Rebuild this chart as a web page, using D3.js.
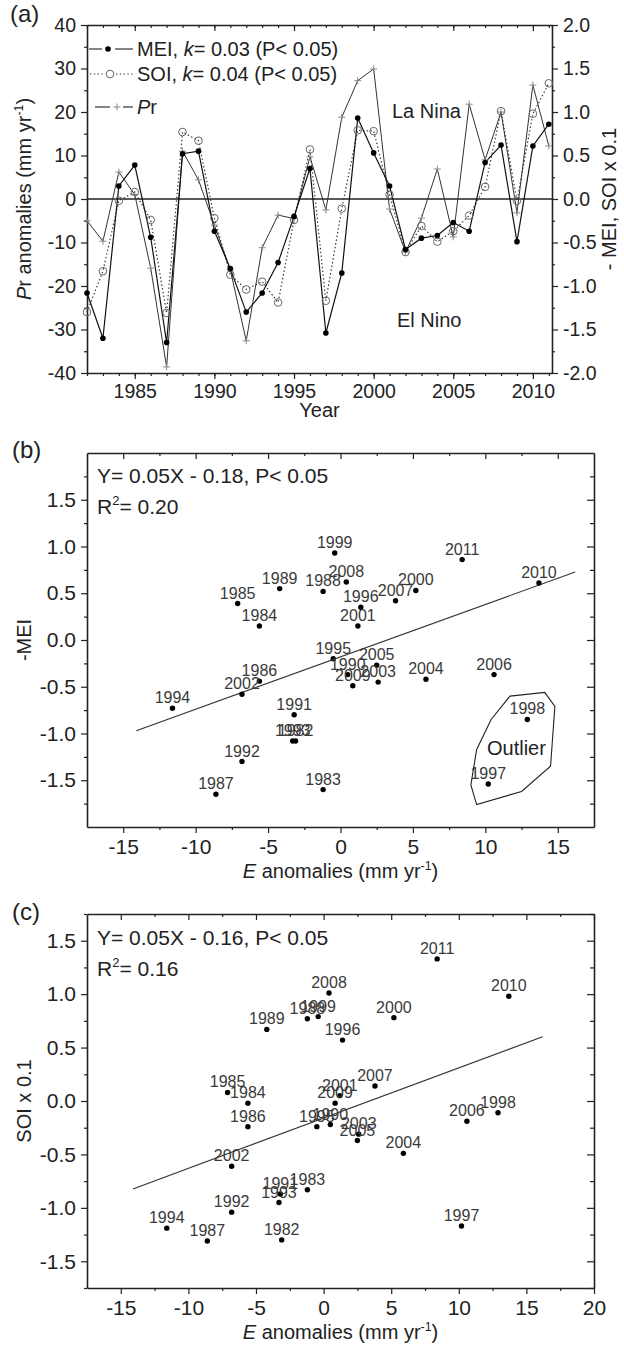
<!DOCTYPE html>
<html>
<head>
<meta charset="utf-8">
<script src="https://cdn.jsdelivr.net/npm/d3@7"></script>
<style>
  body { margin: 0; background: #fff; }
  svg { display: block; font-family: "Liberation Sans", Arial, Helvetica, sans-serif; }
</style>
</head>
<body>
<div id="chart"></div>
<script>
// years of record
var years = [1982, 1983, 1984, 1985, 1986, 1987, 1988, 1989, 1990, 1991,
             1992, 1993, 1994, 1995, 1996, 1997, 1998, 1999, 2000, 2001,
             2002, 2003, 2004, 2005, 2006, 2007, 2008, 2009, 2010, 2011];

// Pr anomalies (mm yr-1), left axis of (a)
var prAnom = [-5, -9.7, 6.2, 1, -15.9, -38.6, 11, 4.4, -6, -16.3,
              -32.6, -11.2, -3.7, -4.5, 9.7, -2.5, 18.8, 27.2, 29.9, -2.3,
              -12.2, -4.4, 6.9, -8.7, 21.8, 9, 20, -3.2, 26.2, 12.2];

// -MEI, right axis of (a) and y of (b)
var negMei = [-1.08, -1.60, 0.15, 0.39, -0.44, -1.65, 0.52, 0.55, -0.37, -0.80,
              -1.30, -1.08, -0.73, -0.20, 0.35, -1.54, -0.85, 0.93, 0.53, 0.15,
              -0.58, -0.45, -0.42, -0.27, -0.37, 0.42, 0.62, -0.49, 0.61, 0.86];

// SOI x 0.1, right axis of (a) and y of (c)
var soi = [-1.30, -0.83, -0.02, 0.08, -0.24, -1.31, 0.77, 0.67, -0.22, -0.87,
           -1.04, -0.95, -1.19, -0.24, 0.57, -1.17, -0.11, 0.79, 0.78, 0.05,
           -0.61, -0.31, -0.49, -0.37, -0.19, 0.14, 1.01, -0.02, 0.98, 1.33];

// E anomalies (mm yr-1), x of (b) and (c)
var eAnom = [-3.1, -1.2, -5.6, -7.1, -5.6, -8.6, -1.2, -4.2, 0.5, -3.2,
             -6.8, -3.3, -11.6, -0.5, 1.4, 10.2, 12.9, -0.4, 5.2, 1.2,
             -6.8, 2.6, 5.9, 2.5, 10.6, 3.8, 0.4, 0.85, 13.7, 8.4];

// tick labels
var yearTicks = [1985, 1990, 1995, 2000, 2005, 2010];
var prTicks = [-40, -30, -20, -10, 0, 10, 20, 30, 40];
var idxTicksA = [-2, -1.5, -1, -0.5, 0, 0.5, 1, 1.5, 2];
var eTicksB = [-15, -10, -5, 0, 5, 10, 15];
var eTicksC = [-15, -10, -5, 0, 5, 10, 15, 20];
var idxTicksBC = [-1.5, -1, -0.5, 0, 0.5, 1, 1.5];

// fitted lines [slope, intercept] and their x extent
var fitB = [0.056, -0.18];
var fitC = [0.047, -0.16];
var fitRange = [-14.1, 16.2];

// hand-drawn outlier outline in (b), [E, -MEI]
var outlierHull = [[11.7, -0.60], [14.1, -0.56], [14.8, -0.71], [14.5, -1.35],
                   [12.5, -1.62], [9.4, -1.76], [9.0, -1.55], [9.4, -1.17], [10.4, -0.85]];

var ink = "#222";
var svg = d3.select("#chart").append("svg").attr("width", 624).attr("height", 1346);

function fmt1(d) { return d.toFixed(1); }
function fmt0(d) { return String(d); }

function ax(orient, scale, at, ticks, size, format, fs, pad) {
  var gen = {left: d3.axisLeft, right: d3.axisRight, top: d3.axisTop, bottom: d3.axisBottom}[orient](scale)
    .tickValues(ticks).tickSize(size).tickSizeOuter(0).tickPadding(pad || 4)
    .tickFormat(format || "");
  var horiz = orient == "top" || orient == "bottom";
  var a = svg.append("g")
    .attr("transform", horiz ? "translate(0," + at + ")" : "translate(" + at + ",0)")
    .call(gen)
    .attr("font-family", null).attr("font-size", fs || 19);
  a.select(".domain").attr("stroke", ink).attr("stroke-width", 1.6);
  a.selectAll(".tick line").attr("stroke", ink).attr("stroke-width", 1.2);
  a.selectAll(".tick text").attr("fill", ink);
  return a;
}
function minor(orient, scale, at, ticks, size) {
  var a = ax(orient, scale, at, ticks, size);
  a.select(".domain").remove();
}

// text with italic / superscript parts
function rich(sel, parts, fs) {
  var up = false;
  parts.forEach(function(p) {
    var t = sel.append("tspan").text(p[0]);
    if (p[1] == "i") t.style("font-style", "italic");
    if (p[1] == "sup") { t.attr("dy", -fs * 0.42).style("font-size", (fs * 0.62) + "px"); up = true; }
    else if (up) { t.attr("dy", fs * 0.42); up = false; }
  });
  return sel;
}
function label(x, y, fs, parts, rot, anchor) {
  var t = svg.append("text").attr("fill", ink).style("font-size", fs + "px")
    .attr("text-anchor", anchor || "start");
  if (rot) t.attr("transform", "translate(" + x + "," + y + ") rotate(" + rot + ")");
  else t.attr("x", x).attr("y", y);
  return rich(t, parts, fs);
}

// ================= (a) time series =================
var xA = d3.scaleLinear().domain([1982, 2011.2]).range([87, 552]);
var yPr = d3.scaleLinear().domain([-40, 40]).range([373, 25]);
var yIdx = d3.scaleLinear().domain([-2, 2]).range([373, 25]);

minor("bottom", xA, 373, years, 3);
ax("bottom", xA, 373, yearTicks, 6, fmt0, 19.5, 5);
minor("top", xA, 25, years, -3);
ax("top", xA, 25, yearTicks, -6);
minor("left", yPr, 87, d3.range(-35, 40, 10), 3);
ax("left", yPr, 87, prTicks, 6, fmt0, 19.5, 5);
minor("right", yIdx, 552, d3.range(-1.75, 2, 0.5), 3);
ax("right", yIdx, 552, idxTicksA, 6, fmt1, 19.5, 5);

svg.append("line")
  .attr("x1", xA.range()[0]).attr("x2", xA.range()[1])
  .attr("y1", yPr(0)).attr("y2", yPr(0))
  .attr("stroke", ink).attr("stroke-width", 1.4);

var linePr = d3.line().x(function(d, i) { return xA(years[i]); }).y(function(d) { return yPr(d); });
var lineIdx = d3.line().x(function(d, i) { return xA(years[i]); }).y(function(d) { return yIdx(d); });

svg.append("path").attr("d", linePr(prAnom)).attr("fill", "none")
  .attr("stroke", "#333").attr("stroke-width", 1);
svg.append("path").attr("d", lineIdx(soi)).attr("fill", "none")
  .attr("stroke", "#333").attr("stroke-width", 1.2).attr("stroke-dasharray", "1.4 2.4");
svg.append("path").attr("d", lineIdx(negMei)).attr("fill", "none")
  .attr("stroke", "#111").attr("stroke-width", 1.2);

function plus(g, x, y, r) {
  g.append("path").attr("d", "M" + (x - r) + "," + y + "h" + (2 * r) + "M" + x + "," + (y - r) + "v" + (2 * r))
    .attr("stroke", "#888").attr("stroke-width", 1).attr("fill", "none");
}
var gPr = svg.append("g");
prAnom.forEach(function(d, i) { plus(gPr, xA(years[i]), yPr(d), 3.5); });

svg.append("g").selectAll("circle").data(soi).join("circle")
  .attr("cx", function(d, i) { return xA(years[i]); }).attr("cy", function(d) { return yIdx(d); })
  .attr("r", 3.8).attr("fill", "none").attr("stroke", "#666").attr("stroke-width", 1);
svg.append("g").selectAll("circle").data(negMei).join("circle")
  .attr("cx", function(d, i) { return xA(years[i]); }).attr("cy", function(d) { return yIdx(d); })
  .attr("r", 2.8).attr("fill", "#000");

// legend
function seg(x1, x2, y, dash) {
  svg.append("line").attr("x1", x1).attr("x2", x2).attr("y1", y).attr("y2", y)
    .attr("stroke", "#333").attr("stroke-width", 1.2).attr("stroke-dasharray", dash || null);
}
seg(89, 102, 49); seg(115, 133, 49);
svg.append("circle").attr("cx", 108).attr("cy", 49).attr("r", 2.8).attr("fill", "#000");
label(137, 56, 20, [["MEI, "], ["k", "i"], ["= 0.03 (P< 0.05)"]]);

seg(90, 104, 74, "1.4 2.4"); seg(116, 133, 74, "1.4 2.4");
svg.append("circle").attr("cx", 110).attr("cy", 74).attr("r", 3.8).attr("fill", "none").attr("stroke", "#666");
label(137, 81, 20, [["SOI, "], ["k", "i"], ["= 0.04 (P< 0.05)"]]);

seg(95, 110, 107); seg(123, 133, 107);
plus(svg, 117, 107, 3.5);
label(137, 114, 20, [["P", "i"], ["r"]]);

label(392, 118, 20, [["La Nina"]]);
label(397, 327, 20, [["El Nino"]]);
label(319.5, 417, 20, [["Year"]], 0, "middle");
label(31, yPr(0), 20, [["P", "i"], ["r anomalies (mm yr"], ["-1", "sup"], [")"]], -90, "middle");
label(616, yPr(0), 20, [["- MEI, SOI x 0.1"]], -90, "middle");
label(10, 22, 24, [["(a)"]]);

// ================= (b), (c) scatter =================
function scatter(x, y, vals, xTicks, fit, eq, r2, eqY, yTitle, tag, tagY) {
  var x0 = x.range()[0], x1 = x.range()[1], y0 = y.range()[0], y1 = y.range()[1];
  var xMinor = d3.range(-12.5, x.domain()[1], 5);
  var yMinor = d3.range(-1.75, 1.8, 0.5);
  minor("bottom", x, y0, xMinor, 3);
  ax("bottom", x, y0, xTicks, 6, fmt0, 21, 6);
  minor("top", x, y1, xMinor, -3);
  ax("top", x, y1, xTicks, -6);
  minor("left", y, x0, yMinor, 3);
  ax("left", y, x0, idxTicksBC, 6, fmt1, 21, 5);
  minor("right", y, x1, yMinor, -4);
  ax("right", y, x1, idxTicksBC, -7);

  svg.append("line")
    .attr("x1", x(fitRange[0])).attr("y1", y(fit[0] * fitRange[0] + fit[1]))
    .attr("x2", x(fitRange[1])).attr("y2", y(fit[0] * fitRange[1] + fit[1]))
    .attr("stroke", "#333").attr("stroke-width", 1.1);

  var g = svg.append("g");
  g.selectAll("circle").data(vals).join("circle")
    .attr("cx", function(d, i) { return x(eAnom[i]); }).attr("cy", function(d) { return y(d); })
    .attr("r", 2.7).attr("fill", "#000");
  g.selectAll("text").data(vals).join("text")
    .attr("x", function(d, i) { return x(eAnom[i]); }).attr("y", function(d) { return y(d) - 5; })
    .attr("text-anchor", "middle").attr("fill", "#3a3a3a").style("font-size", "16px")
    .text(function(d, i) { return years[i]; });

  label(97, eqY, 21, [[eq]]);
  label(97, eqY + 31, 21, [["R"], ["2", "sup"], [r2]]);
  label((x0 + x1) / 2, y0 + 51, 20, [["E", "i"], [" anomalies (mm yr"], ["-1", "sup"], [")"]], 0, "middle");
  label(31, y(0), 20, [[yTitle]], -90, "middle");
  label(12, tagY, 24, [[tag]]);
}

var xB = d3.scaleLinear().domain([-17.5, 17.5]).range([87, 594]);
var yB = d3.scaleLinear().domain([-2, 2]).range([827, 453]);
scatter(xB, yB, negMei, eTicksB, fitB, "Y= 0.05X - 0.18, P< 0.05", "= 0.20", 483, "-MEI", "(b)", 458);

svg.append("path")
  .attr("d", d3.line().x(function(d) { return xB(d[0]); }).y(function(d) { return yB(d[1]); })
    .curve(d3.curveLinearClosed)(outlierHull))
  .attr("fill", "none").attr("stroke", "#222").attr("stroke-width", 1.1);
label(487, 755, 20, [["Outlier"]]);

var xC = d3.scaleLinear().domain([-17.5, 20]).range([87, 594]);
var yC = d3.scaleLinear().domain([-1.75, 1.75]).range([1288, 914]);
scatter(xC, yC, soi, eTicksC, fitC, "Y= 0.05X - 0.16, P< 0.05", "= 0.16", 945, "SOI x 0.1", "(c)", 920);
</script>
</body>
</html>
